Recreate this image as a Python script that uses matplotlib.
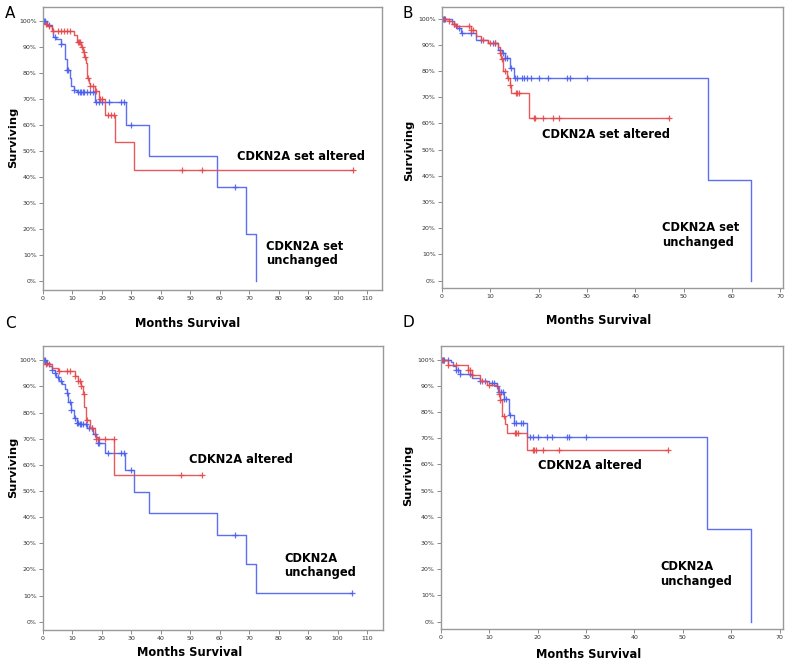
import numpy as np
import matplotlib.pyplot as plt
from matplotlib.ticker import FuncFormatter

# Kaplan-Meier curves: event times (months), survival (%) after each step, censor times
a_red_t = [0, 1.5, 3, 10.5, 11.5, 13, 13.5, 14, 14.5, 15, 15.5, 16, 17.5, 19, 21, 24.5, 31]
a_red_s = [99, 98, 96, 94.5, 92, 90, 88, 86, 84, 78, 76, 75, 73, 70, 64, 53.5, 42.8]
a_red_c = [1, 2, 3.5, 5, 6, 7, 8, 9, 11.8, 12.2, 12.6, 13.2, 13.8, 14.3, 15.2, 16, 17, 18,
           19.5, 20, 22, 23, 24, 47, 54, 105]
a_blue_t = [0, 1.5, 3, 3.5, 4.5, 6, 7.5, 8, 9, 9.5, 10.5, 11.5, 17.5, 28, 36, 59, 69, 72.3]
a_blue_s = [100, 98.5, 97, 94, 93, 91, 85.5, 81, 78, 75, 73.5, 72.5, 69, 60, 48, 36, 18, 0]
a_blue_c = [0.4, 0.8, 2, 4, 6, 8, 8.5, 10.5, 12, 12.5, 13, 13.5, 14, 15, 16, 17, 18, 19, 20,
            22.5, 26.5, 27.5, 30, 65]

b_red_t = [0, 1.5, 2, 3, 6, 7, 8, 9.5, 11.5, 12, 12.3, 12.7, 13.5, 14, 14.3, 18]
b_red_s = [100, 99, 98, 97, 95.5, 93.5, 92, 90.5, 89, 87, 84.5, 80, 77.5, 74.5, 71.5, 62]
b_red_c = [0.5, 1.5, 2.5, 3.2, 5.5, 6, 6.5, 8.5, 10, 11, 12.1, 12.5, 13, 13.6, 14.1, 15.3,
           15.6, 16, 19, 19.3, 21, 23, 24.3, 47]
b_blue_t = [0, 2, 2.5, 3, 4, 7, 9.5, 11.5, 12.5, 13, 14, 15, 55, 64]
b_blue_s = [100, 99, 98, 96.5, 94.5, 92, 90.5, 88, 87, 85, 81, 77.5, 38.5, 0]
b_blue_c = [0.2, 0.4, 0.6, 2.5, 3.5, 4.2, 6, 8, 10.5, 11, 12, 12.7, 13, 13.5, 14.2, 15.2,
            15.5, 16.5, 17, 17.5, 18.5, 20, 22, 25.8, 26.5, 30]

c_red_t = [0, 3, 5, 11, 12, 13, 13.5, 14, 14.5, 16, 17.5, 18, 24.2]
c_red_s = [98.7, 97, 96, 94, 92, 90, 87, 82, 77, 74, 71.5, 70, 56]
c_red_c = [1, 2, 5.5, 8, 9, 11, 12, 12.5, 13, 13.8, 14.8, 16.5, 18, 19, 21, 24, 47, 54]
c_blue_t = [0, 1, 2, 3, 4, 4.5, 5.5, 6.5, 7.5, 8, 8.5, 9.5, 10.5, 11.5, 12.5, 15, 17, 18,
            18.5, 21, 28, 31, 36, 59, 69, 72.3]
c_blue_s = [100, 99, 98, 96.5, 95, 93.5, 92, 91, 89, 87.5, 84, 81, 78, 76, 75.5, 74, 72,
            70.5, 68.5, 64.5, 58, 49.8, 41.5, 33.3, 22, 11]
c_blue_c = [0.3, 0.7, 1.5, 3, 4, 5, 6, 8, 9, 9.5, 11, 11.5, 12, 12.5, 13, 13.5, 14.5, 15.5,
            16.5, 17.5, 18.5, 19, 22, 26.5, 27.5, 30, 65, 105]

d_red_t = [0, 1.5, 5.5, 6.5, 8, 9.5, 11.5, 12, 12.2, 12.6, 13.2, 13.6, 17.8]
d_red_s = [100, 98, 96, 94, 92, 90.5, 89.5, 87, 84.5, 78.5, 75.5, 72, 65.5]
d_red_c = [0.5, 1.5, 3.2, 5.5, 6, 6.5, 8.5, 10, 12, 12.3, 13, 15.3, 15.6, 16, 19, 19.3,
           19.6, 21, 24.3, 47]
d_blue_t = [0, 2, 2.5, 3, 4, 6.5, 8, 10, 11.5, 11.7, 13, 14, 15, 17.8, 55, 64]
d_blue_s = [100, 99, 97.5, 96, 94.5, 93, 92, 91, 90, 87.5, 85, 79, 76, 70.5, 35.2, 0]
d_blue_c = [0.3, 0.5, 0.7, 1.5, 3, 3.5, 4, 6, 8, 9, 10.5, 11, 11.5, 12, 12.5, 12.8, 13,
            13.5, 14.3, 15, 15.5, 16.5, 17, 18.5, 19, 20, 22, 23, 26, 26.5, 30]

RED = '#e5484a'
BLUE = '#4a5ff0'
W, H = 792, 667

fig = plt.figure(figsize=(W / 100, H / 100), dpi=100)


def km(ax, t, s, cens, color):
    t = np.array(t, float)
    s = np.array(s, float)
    end = max(t[-1], max(cens))
    ax.plot(np.append(t, end), np.append(s, s[-1]), drawstyle='steps-post',
            color=color, lw=1.0, alpha=0.9)
    cens = np.array(cens, float)
    cy = s[np.searchsorted(t, cens, side='right') - 1]
    ax.plot(cens, cy, '+', color=color, ms=5, mew=0.9, alpha=0.9)


def panel(box, xmax, xlim, ylim, curves, altered, unchanged, letter, lpos, ylab, xlab):
    l, r, t, b = box
    ax = fig.add_axes([l / W, 1 - b / H, (r - l) / W, (b - t) / H])
    for tt, ss, cc, col in curves:
        km(ax, tt, ss, cc, col)
    ax.set_xlim(0, xlim)
    ax.set_ylim(*ylim)
    ax.set_xticks(np.arange(0, xmax + 1, 10))
    ax.set_yticks(np.arange(0, 101, 10))
    ax.yaxis.set_major_formatter(FuncFormatter(lambda v, p: f'{v:.0f}%'))
    ax.tick_params(labelsize=4.5, length=3, width=0.6, color='#777777', pad=1.5,
                   labelcolor='#333333')
    for sp in ax.spines.values():
        sp.set_color('#999999')
        sp.set_linewidth(1.0)
    ax.text(altered[0], altered[1], 'CDKN2A set altered' if altered[2] else 'CDKN2A altered',
            fontsize=8.3, fontweight='bold', va='center', ha='left')
    ax.text(unchanged[0], unchanged[1],
            'CDKN2A set\nunchanged' if unchanged[2] else 'CDKN2A\nunchanged',
            fontsize=8.3, fontweight='bold', va='center', ha='left', linespacing=1.15)
    fig.text(lpos[0] / W, 1 - lpos[1] / H, letter, fontsize=11, ha='center', va='center')
    fig.text(ylab[0] / W, 1 - ylab[1] / H, 'Surviving', fontsize=8.2, fontweight='bold',
             rotation=90, ha='center', va='center')
    fig.text(xlab[0] / W, 1 - xlab[1] / H, 'Months Survival', fontsize=8.3,
             fontweight='bold', ha='center', va='center')
    return ax


panel((43, 382, 7, 290), 110, 115, (-3.5, 105.4),
      [(a_blue_t, a_blue_s, a_blue_c, BLUE), (a_red_t, a_red_s, a_red_c, RED)],
      (65.8, 47.8, True), (75.6, 10.6, True), 'A', (10, 13), (13, 137), (188, 323))
panel((442, 783, 7, 288), 70, 70.6, (-2.8, 104.4),
      [(b_blue_t, b_blue_s, b_blue_c, BLUE), (b_red_t, b_red_s, b_red_c, RED)],
      (20.7, 55.6, True), (45.5, 17.4, True), 'B', (408, 13), (409, 150), (599, 321))
panel((43, 383, 346, 630), 110, 115.4, (-3.2, 105.5),
      [(c_blue_t, c_blue_s, c_blue_c, BLUE), (c_red_t, c_red_s, c_red_c, RED)],
      (49.5, 62.2, False), (81.9, 21.5, False), 'C', (10, 323), (13, 467), (190, 653))
panel((441, 783, 346, 629), 70, 70.7, (-2.8, 105.2),
      [(d_blue_t, d_blue_s, d_blue_c, BLUE), (d_red_t, d_red_s, d_red_c, RED)],
      (20.1, 59.5, False), (45.4, 18.1, False), 'D', (408, 322), (408, 475), (589, 655))

fig.savefig('out.png', dpi=100)
